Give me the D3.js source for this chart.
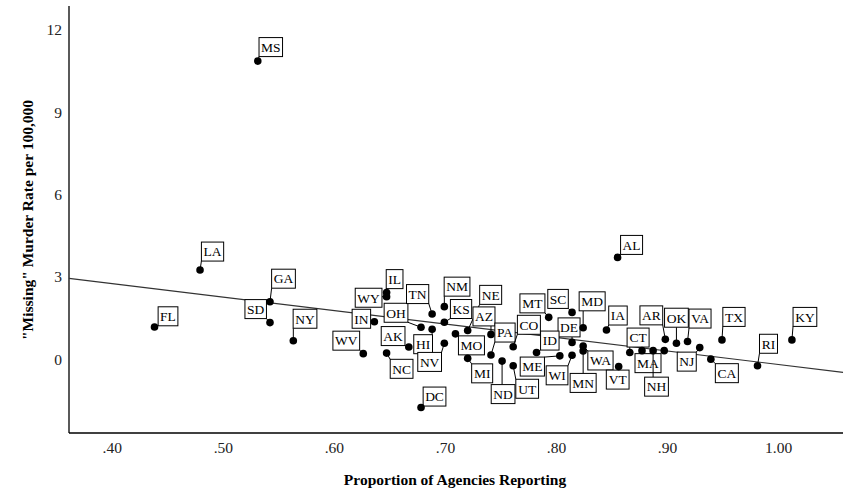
<!DOCTYPE html>
<html>
<head>
<meta charset="utf-8">
<script src="https://cdnjs.cloudflare.com/ajax/libs/d3/7.8.5/d3.min.js"></script>
<style>
  body { margin: 0; background: #fff; }
  text { font-family: "Liberation Serif", "Times New Roman", serif; }
  .tick-label { font-size: 15.5px; fill: #222; }
  .axis-title { font-size: 15.5px; font-weight: bold; fill: #000; }
  .state-label { font-size: 13.5px; fill: #000; }
</style>
</head>
<body>
<script>
// state codes, proportion of agencies reporting, "missing" murder rate
var states = ["MS","LA","FL","GA","SD","NY","WV","IN","IL","WY","AK","NC","OH","HI","TN","NM","KS","NV","DC",
  "NE","AZ","MO","MI","PA","ND","CO","UT","MT","SC","MD","DE","ID","ME","WI","WA","MN","AL","IA","VT",
  "CT","MA","NH","OR","AR","OK","VA","NJ","CA","TX","RI","KY"];
var proportion = [0.531,0.479,0.438,0.542,0.542,0.563,0.626,0.636,0.647,0.647,0.667,0.647,0.678,0.688,0.688,0.699,0.699,0.699,0.678,
  0.720,0.741,0.709,0.720,0.741,0.751,0.761,0.761,0.793,0.814,0.824,0.814,0.782,0.803,0.814,0.824,0.824,0.855,0.845,0.856,
  0.866,0.877,0.887,0.897,0.898,0.908,0.918,0.929,0.939,0.949,0.981,1.012];
var murderRate = [10.87,3.27,1.20,2.12,1.36,0.70,0.23,1.39,2.45,2.30,0.47,0.25,1.19,1.12,1.67,1.94,1.37,0.61,-1.73,
  1.07,0.93,0.95,0.06,0.18,-0.04,0.48,-0.21,1.55,1.73,1.17,0.64,0.27,0.15,0.17,0.51,0.33,3.73,1.09,-0.24,
  0.27,0.34,0.34,0.34,0.75,0.61,0.67,0.45,0.03,0.73,-0.21,0.73];
var xTicks = [0.4,0.5,0.6,0.7,0.8,0.9,1.0];
var yTicks = [0,3,6,9,12];
var unlabeled = ["OR"];

// where each label box sits relative to its point (layout only)
var labelDx = [13,12.5,13.5,13.5,-14.3,11.7,-17,-13,8,-18,-15.7,15,-25,-9,-14.5,12.7,16.7,-14.7,13.5,
  23,-7,16,14.5,14,1,15.7,14,-16.3,-14,9,-3,13.3,-27.5,-15,17.3,0,14,11.5,-1,
  8.3,6,3.4,0,-14,0,12.5,-13,16,12,11,13];
var labelDy = [-14,-18.5,-10.7,-23,-13.5,-22,-13,-3,-13.5,1,-11,15.7,-14.5,15,-20,-20,-13.3,18.7,-11,
  -35.7,-18,11.5,15,-22.5,33,-22,23,-14,-13.5,-26.5,-15,-12,10.7,20,14.5,32,-12.5,-14.5,13,
  -15,12.5,36,0,-24,-25.5,-23,14,14,-23,-22,-23];

var width = 853, height = 503;
var plotL = 69, plotR = 843, plotT = 6, plotB = 433;

var svg = d3.select("body").append("svg")
  .attr("width", width).attr("height", height);

var x = d3.scaleLinear().domain([0.361, 1.058]).range([plotL, plotR]);
var y = d3.scaleLinear().domain([-2.655, 12.873]).range([plotB, plotT]);

// axis lines
svg.append("line").attr("x1", plotL).attr("x2", plotL).attr("y1", plotT).attr("y2", plotB)
  .attr("stroke", "#000").attr("stroke-width", 1.3);
svg.append("line").attr("x1", plotL).attr("x2", plotR).attr("y1", plotB).attr("y2", plotB)
  .attr("stroke", "#000").attr("stroke-width", 1.3);

svg.selectAll(".ytick").data(yTicks).enter().append("text")
  .attr("class", "tick-label")
  .attr("x", 62).attr("y", d => y(d) + 5)
  .attr("text-anchor", "end")
  .text(d => d);

svg.selectAll(".xtick").data(xTicks).enter().append("text")
  .attr("class", "tick-label")
  .attr("x", d => x(d)).attr("y", plotB + 20)
  .attr("text-anchor", "middle")
  .text(d => d3.format(".2f")(d).replace(/^0/, ""));

svg.append("text").attr("class", "axis-title")
  .attr("x", 455).attr("y", 485).attr("text-anchor", "middle")
  .text("Proportion of Agencies Reporting");
svg.append("text").attr("class", "axis-title")
  .attr("transform", "translate(33,220) rotate(-90)")
  .attr("text-anchor", "middle")
  .text("\"Missing\"  Murder Rate per 100,000");

// least squares fit line
var n = states.length;
var mx = d3.mean(proportion), my = d3.mean(murderRate);
var sxy = 0, sxx = 0;
for (var i = 0; i < n; i++) {
  sxy += (proportion[i] - mx) * (murderRate[i] - my);
  sxx += (proportion[i] - mx) * (proportion[i] - mx);
}
var slope = sxy / sxx, icept = my - slope * mx;
var x0 = x.domain()[0], x1 = x.domain()[1];
svg.append("line")
  .attr("x1", x(x0)).attr("y1", y(icept + slope * x0))
  .attr("x2", x(x1)).attr("y2", y(icept + slope * x1))
  .attr("stroke", "#333").attr("stroke-width", 1.2);

var pts = states.map((s, i) => ({ s: s, px: x(proportion[i]), py: y(murderRate[i]), dx: labelDx[i], dy: labelDy[i] }));

// labels: leader + box + text
var labelled = pts.filter(d => unlabeled.indexOf(d.s) < 0);
var g = svg.selectAll(".lab").data(labelled).enter().append("g");
g.each(function(d) {
  var grp = d3.select(this);
  var t = grp.append("text").attr("class", "state-label")
    .attr("x", d.px + d.dx).attr("y", d.py + d.dy + 4.8)
    .attr("text-anchor", "middle").text(d.s);
  var w = t.node().getBBox().width + 4, h = 19;
  var bx = d.px + d.dx - w / 2, by = d.py + d.dy - h / 2;
  // nearest point of box to the dot
  var cx = Math.max(bx, Math.min(d.px, bx + w));
  var cy = Math.max(by, Math.min(d.py, by + h));
  grp.insert("line", "text")
    .attr("x1", d.px).attr("y1", d.py).attr("x2", cx).attr("y2", cy)
    .attr("stroke", "#000").attr("stroke-width", 1);
  grp.insert("rect", "text")
    .attr("x", bx).attr("y", by).attr("width", w).attr("height", h)
    .attr("fill", "#fff").attr("stroke", "#000").attr("stroke-width", 1);
});

svg.selectAll(".dot").data(pts).enter().append("circle")
  .attr("cx", d => d.px).attr("cy", d => d.py).attr("r", 3.8)
  .attr("fill", "#000");
</script>
</body>
</html>
